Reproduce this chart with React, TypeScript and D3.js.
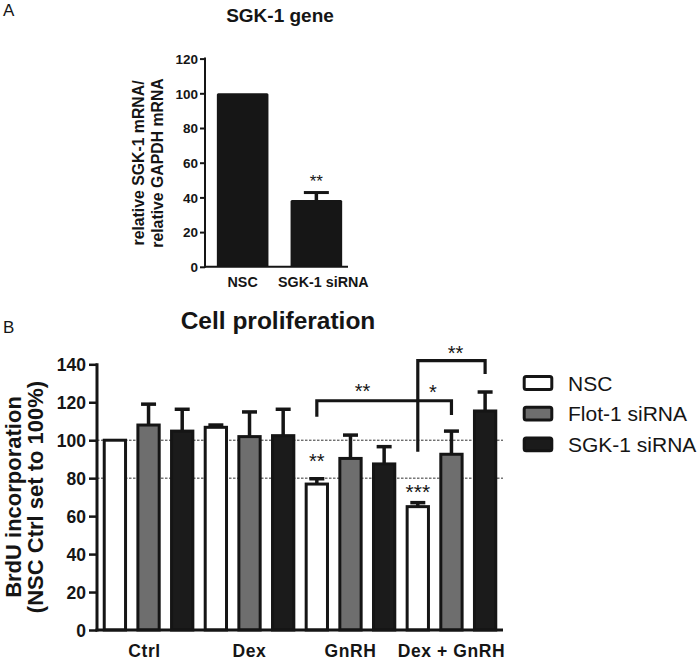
import React, { useEffect, useRef } from 'react';
import * as d3 from 'd3';

// Panel A - SGK-1 knockdown
const geneCategories = ['NSC', 'SGK-1 siRNA'];
const geneValues = [100, 38.5];
const geneErrors = [0, 4.3];
const geneTicks = [0, 20, 40, 60, 80, 100, 120];

// Panel B - cell proliferation
const treatments = ['Ctrl', 'Dex', 'GnRH', 'Dex + GnRH'];
const seriesNames = ['NSC', 'Flot-1 siRNA', 'SGK-1 siRNA'];
const nscValues = [100, 106.8, 76.9, 65];
const flotValues = [108, 101.9, 90.4, 92.6];
const sgkValues = [104.8, 102.4, 87.5, 115.4];
const nscErrors = [0, 1.2, 2.8, 2.1];
const flotErrors = [11, 13, 12.3, 12.2];
const sgkErrors = [11.5, 13.9, 9.1, 10];
const prolifTicks = [0, 20, 40, 60, 80, 100, 120, 140];
const refLines = [80, 100];

// significance brackets (values in y units)
const brackets = [
  { from: 'GnRH|NSC', to: 'Dex + GnRH|Flot-1 siRNA', level: 120.8, leftEnd: 112.4, rightEnd: 113.3 },
  { from: 'Dex + GnRH|NSC', to: 'Dex + GnRH|SGK-1 siRNA', level: 141.9, leftEnd: 93.9, rightEnd: 134.9 },
];
const starLabels = [
  { text: '**', a: 'GnRH|NSC', b: 'Dex + GnRH|Flot-1 siRNA', t: 0.34, value: 128.6 },
  { text: '*', a: 'Dex + GnRH|NSC', b: 'Dex + GnRH|Flot-1 siRNA', t: 0.45, value: 127.9 },
  { text: '**', a: 'Dex + GnRH|NSC', b: 'Dex + GnRH|SGK-1 siRNA', t: 0.56, value: 148.4 },
  { text: '**', a: 'GnRH|NSC', b: 'GnRH|NSC', t: 0, value: 91.3 },
  { text: '***', a: 'Dex + GnRH|NSC', b: 'Dex + GnRH|NSC', t: 0, value: 75.5 },
];

const seriesFill = ['#ffffff', '#6e6e6e', '#1b1b1b'];
const INK = '#151515';
const FONT = '"Liberation Sans", Arial, Helvetica, sans-serif';

const App = () => {
  const svgRef = useRef<SVGSVGElement>(null);

  useEffect(() => {
    const svg = d3.select(svgRef.current);
    svg.selectAll('*').remove();
    svg.attr('font-family', FONT);

    // ---------- panel A ----------
    const a = svg.append('g');
    const ya = d3.scaleLinear().domain([0, 120]).range([266.8, 58.6]);
    const xa = d3.scaleBand().domain(geneCategories).range([205, 348])
      .paddingInner(0.3).paddingOuter(0.12).align(0.67);

    a.append('text').attr('x', 3).attr('y', 16).attr('font-size', 17).attr('fill', INK).text('A');
    a.append('text').attr('x', 280).attr('y', 22).attr('text-anchor', 'middle')
      .attr('font-size', 19).attr('font-weight', 'bold').attr('fill', INK).text('SGK-1 gene');

    a.selectAll('.bar').data(geneValues).enter().append('rect')
      .attr('x', (d, i) => xa(geneCategories[i]))
      .attr('width', xa.bandwidth())
      .attr('y', d => ya(d))
      .attr('height', d => ya(0) - ya(d))
      .attr('rx', 1.5)
      .attr('fill', '#161616');

    geneErrors.forEach((e, i) => {
      if (!e) return;
      const cx = xa(geneCategories[i]) + xa.bandwidth() / 2;
      a.append('line').attr('x1', cx).attr('x2', cx).attr('y1', ya(geneValues[i])).attr('y2', ya(geneValues[i] + e))
        .attr('stroke', '#161616').attr('stroke-width', 3.5);
      a.append('line').attr('x1', cx - 12.5).attr('x2', cx + 12.5).attr('y1', ya(geneValues[i] + e)).attr('y2', ya(geneValues[i] + e))
        .attr('stroke', '#161616').attr('stroke-width', 3);
    });

    a.append('text').attr('x', xa('SGK-1 siRNA') + xa.bandwidth() / 2).attr('y', 176.7 + 10)
      .attr('text-anchor', 'middle').attr('font-size', 17).attr('fill', INK).text('**');

    const axA = a.append('g').attr('transform', 'translate(205,0)')
      .call(d3.axisLeft(ya).tickValues(geneTicks).tickSize(5).tickPadding(2));
    axA.select('.domain').remove();
    axA.selectAll('.tick line').attr('stroke', INK).attr('stroke-width', 2);
    axA.selectAll('.tick text').attr('font-size', 13.5).attr('font-weight', 'bold')
      .attr('font-family', FONT).attr('fill', INK).attr('dy', '0.36em');
    a.append('line').attr('x1', 205).attr('x2', 205).attr('y1', 57.6).attr('y2', 267.8)
      .attr('stroke', INK).attr('stroke-width', 2);
    a.append('line').attr('x1', 204).attr('x2', 348).attr('y1', 266.8).attr('y2', 266.8)
      .attr('stroke', INK).attr('stroke-width', 2);

    geneCategories.forEach((c, i) => {
      a.append('text').attr('x', xa(c) + xa.bandwidth() / 2 + (i === 1 ? 7 : 0)).attr('y', 287)
        .attr('text-anchor', 'middle').attr('font-size', 14.3).attr('font-weight', 'bold')
        .attr('fill', INK).text(c);
    });

    const labA = a.append('g').attr('transform', 'translate(0,163) rotate(-90)');
    labA.append('text').attr('x', 0).attr('y', 144).attr('text-anchor', 'middle')
      .attr('font-size', 15.8).attr('font-weight', 'bold').attr('fill', INK).text('relative SGK-1 mRNA/');
    labA.append('text').attr('x', 0).attr('y', 163).attr('text-anchor', 'middle')
      .attr('font-size', 15.8).attr('font-weight', 'bold').attr('fill', INK).text('relative GAPDH mRNA');

    // ---------- panel B ----------
    const b = svg.append('g');
    const yb = d3.scaleLinear().domain([0, 140]).range([630, 364.3]);
    const keys = treatments.flatMap(t => seriesNames.map(s => `${t}|${s}`));
    const xb = d3.scaleBand().domain(keys).range([97, 503]).paddingInner(0.367).paddingOuter(0.215);
    const bw = xb.bandwidth();
    const cx = (k: string) => xb(k) + bw / 2;

    const means = [nscValues, flotValues, sgkValues];
    const errs = [nscErrors, flotErrors, sgkErrors];
    const rows = keys.map((k, i) => {
      const g = Math.floor(i / 3), s = i % 3;
      return { key: k, s, value: means[s][g], err: errs[s][g] };
    });

    b.append('text').attr('x', 3).attr('y', 333).attr('font-size', 17).attr('fill', INK).text('B');
    b.append('text').attr('x', 278).attr('y', 329).attr('text-anchor', 'middle')
      .attr('font-size', 24.5).attr('font-weight', 'bold').attr('fill', INK).text('Cell proliferation');

    // reference dotted lines behind bars
    b.selectAll('.ref').data(refLines).enter().append('line')
      .attr('x1', 97).attr('x2', 503).attr('y1', d => yb(d)).attr('y2', d => yb(d))
      .attr('stroke', '#333').attr('stroke-width', 1).attr('stroke-dasharray', '2.5,1.5');

    // error bars (upper only)
    rows.forEach(r => {
      if (!r.err) return;
      b.append('line').attr('x1', cx(r.key)).attr('x2', cx(r.key))
        .attr('y1', yb(r.value)).attr('y2', yb(r.value + r.err))
        .attr('stroke', INK).attr('stroke-width', 3.5);
      b.append('line').attr('x1', cx(r.key) - 7.5).attr('x2', cx(r.key) + 7.5)
        .attr('y1', yb(r.value + r.err)).attr('y2', yb(r.value + r.err))
        .attr('stroke', INK).attr('stroke-width', 3.5);
    });

    b.selectAll('.bar').data(rows).enter().append('rect')
      .attr('x', d => xb(d.key))
      .attr('width', bw)
      .attr('y', d => yb(d.value))
      .attr('height', d => yb(0) - yb(d.value))
      .attr('fill', d => seriesFill[d.s])
      .attr('stroke', INK).attr('stroke-width', 3);

    // brackets
    brackets.forEach(br => {
      const x1 = cx(br.from), x2 = cx(br.to);
      const path = d3.path();
      path.moveTo(x1, yb(br.leftEnd));
      path.lineTo(x1, yb(br.level));
      path.lineTo(x2, yb(br.level));
      path.lineTo(x2, yb(br.rightEnd));
      b.append('path').attr('d', path.toString()).attr('fill', 'none')
        .attr('stroke', INK).attr('stroke-width', 3.2).attr('stroke-linecap', 'butt');
    });

    starLabels.forEach(l => {
      const x = cx(l.a) + l.t * (cx(l.b) - cx(l.a));
      const fs = l.text.length === 3 ? 21 : 20;
      b.append('text').attr('x', x).attr('y', yb(l.value) + 0.58 * fs)
        .attr('text-anchor', 'middle').attr('font-size', fs).attr('fill', INK).text(l.text);
    });

    // axes
    const axB = b.append('g').attr('transform', 'translate(97,0)')
      .call(d3.axisLeft(yb).tickValues(prolifTicks).tickSize(8).tickPadding(3));
    axB.select('.domain').remove();
    axB.selectAll('.tick line').attr('stroke', INK).attr('stroke-width', 2.5);
    axB.selectAll('.tick text').attr('font-size', 17.5).attr('font-weight', 'bold')
      .attr('font-family', FONT).attr('fill', INK).attr('dy', '0.36em');
    b.append('line').attr('x1', 97).attr('x2', 97).attr('y1', yb(140) - 1).attr('y2', 631.5)
      .attr('stroke', INK).attr('stroke-width', 3);
    b.append('line').attr('x1', 95.5).attr('x2', 503).attr('y1', 630).attr('y2', 630)
      .attr('stroke', INK).attr('stroke-width', 3);

    treatments.forEach(t => {
      b.append('text').attr('x', cx(`${t}|Flot-1 siRNA`) - (t === 'Ctrl' ? 4 : 0)).attr('y', 657)
        .attr('text-anchor', 'middle').attr('font-size', 17.5).attr('font-weight', 'bold')
        .attr('letter-spacing', 0.6).attr('fill', INK).text(t);
    });

    const labB = b.append('g').attr('transform', 'translate(0,497) rotate(-90)');
    labB.append('text').attr('x', 0).attr('y', 21).attr('text-anchor', 'middle')
      .attr('font-size', 22).attr('font-weight', 'bold').attr('fill', INK).text('BrdU incorporation');
    labB.append('text').attr('x', 0).attr('y', 43).attr('text-anchor', 'middle')
      .attr('font-size', 22).attr('font-weight', 'bold').attr('fill', INK).text('(NSC Ctrl set to 100%)');

    // legend
    const leg = b.append('g');
    seriesNames.forEach((s, i) => {
      const cy = 383 + i * 30.7;
      leg.append('rect').attr('x', 524.2).attr('y', cy - 6.4).attr('width', 27.6).attr('height', 12.8)
        .attr('rx', 2).attr('fill', seriesFill[i]).attr('stroke', INK).attr('stroke-width', 3);
      leg.append('text').attr('x', 568).attr('y', cy + 7.5).attr('font-size', 21)
        .attr('fill', INK).text(s);
    });
  }, []);

  return (
    <div style={{ width: 700, height: 660, position: 'absolute', left: 0, top: 0, background: '#fff' }}>
      <svg ref={svgRef} width={700} height={660} style={{ display: 'block' }} />
    </div>
  );
};

export default App;
